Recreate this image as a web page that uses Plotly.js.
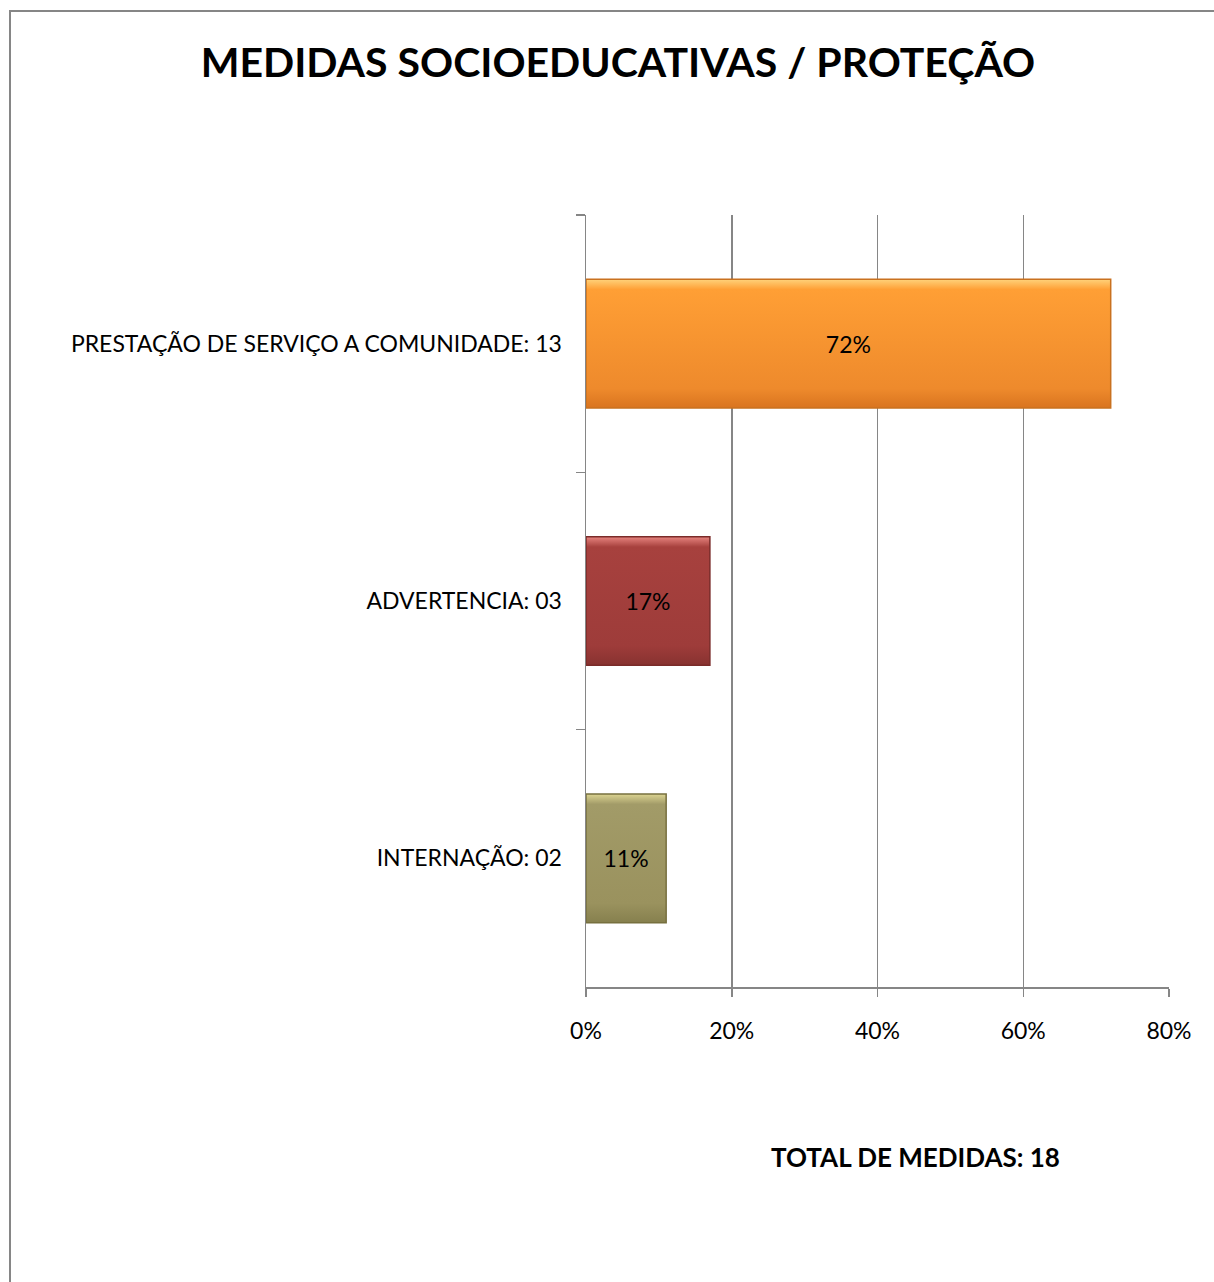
<!DOCTYPE html>
<html>
<head>
<meta charset="utf-8">
<script src="https://cdn.plot.ly/plotly-3.0.1.min.js"></script>
<style>
  html, body { margin: 0; padding: 0; background: #fff; }
  #wrap { position: relative; width: 1214px; height: 1282px; }
  #chart { position: absolute; left: 0; top: 0; width: 1214px; height: 1282px; }
  #frame { position: absolute; left: 9px; top: 10px; right: -4px; bottom: -4px;
           border-top: 2px solid #868686; border-left: 2px solid #868686; pointer-events: none; }
</style>
</head>
<body>
<div id="wrap">
  <div id="chart"></div>
  <div id="frame"></div>
</div>
<script>
const categories = ["PRESTAÇÃO DE SERVIÇO A COMUNIDADE: 13", "ADVERTENCIA: 03", "INTERNAÇÃO: 02"];
const shares = [0.72, 0.17, 0.11];
const labels = ["72%", "17%", "11%"];
const barColors = ["#F8912F", "#A23E3B", "#9D9563"];
const edgeColors = ["#C9711F", "#7A2B29", "#77703F"];
// gradient stops per bar (top highlight, body top, body bottom, bottom edge)
const barShades = [
  ["#FFD27A", "#FF9F35", "#EE8A2C", "#D9741F"],
  ["#E88580", "#A7413E", "#9E3C3A", "#873230"],
  ["#DCD492", "#A29B68", "#9A925E", "#86804E"]
];
const chartTitle = "MEDIDAS SOCIOEDUCATIVAS / PROTEÇÃO";
const totalNote = "TOTAL DE MEDIDAS: 18";

const FONT = "Lato, 'Open Sans', sans-serif";

const trace = {
  type: "bar",
  orientation: "h",
  y: categories,
  x: shares,
  text: labels,
  textposition: "inside",
  insidetextanchor: "middle",
  textangle: 0,
  textfont: { family: FONT, size: 23, color: "#000" },
  marker: { color: barColors, line: { color: edgeColors, width: 1.5 } },
  hoverinfo: "skip"
};

const layout = {
  width: 1214,
  height: 1282,
  paper_bgcolor: "#ffffff",
  plot_bgcolor: "#ffffff",
  margin: { l: 586, r: 45, t: 215, b: 295, pad: 0 },
  showlegend: false,
  bargap: 0.5,
  font: { family: FONT, color: "#000" },
  title: {
    text: "<b>" + chartTitle + "</b>",
    font: { family: FONT, size: 41, color: "#000" },
    x: 0.509, xanchor: "center",
    y: 0.951, yanchor: "middle", yref: "container"
  },
  xaxis: {
    range: [0, 0.8],
    tickvals: [0, 0.2, 0.4, 0.6, 0.8],
    tickformat: ".0%",
    showgrid: true,
    gridcolor: "#868686",
    gridwidth: 1.5,
    zeroline: false,
    showline: true,
    linecolor: "#868686",
    linewidth: 1.5,
    ticks: "outside",
    ticklen: 8,
    tickwidth: 1.5,
    tickcolor: "#868686",
    ticklabelstandoff: 15,
    tickfont: { family: FONT, size: 23, color: "#000" },
    fixedrange: true
  },
  yaxis: {
    type: "category",
    autorange: "reversed",
    showgrid: false,
    zeroline: false,
    showline: true,
    linecolor: "#868686",
    linewidth: 1.5,
    ticks: "outside",
    tickson: "boundaries",
    ticklen: 9,
    tickwidth: 1.5,
    tickcolor: "#868686",
    ticklabelstandoff: 18,
    tickfont: { family: FONT, size: 23, color: "#000" },
    fixedrange: true
  },
  annotations: [{
    text: "<b>" + totalNote + "</b>",
    xref: "paper", yref: "paper",
    x: 0.565, y: -0.220,
    xanchor: "center", yanchor: "middle",
    showarrow: false,
    font: { family: FONT, size: 26, color: "#000" }
  }]
};

Plotly.newPlot("chart", [trace], layout, { displayModeBar: false, staticPlot: true }).then(function (gd) {
  // give each bar the shaded (bevel-like) fill seen in the reference
  const svg = gd.querySelector("svg.main-svg");
  const NS = "http://www.w3.org/2000/svg";
  let defs = svg.querySelector("defs");
  if (!defs) { defs = document.createElementNS(NS, "defs"); svg.insertBefore(defs, svg.firstChild); }
  barShades.forEach(function (s, i) {
    const g = document.createElementNS(NS, "linearGradient");
    g.setAttribute("id", "barshade" + i);
    g.setAttribute("x1", "0"); g.setAttribute("y1", "0");
    g.setAttribute("x2", "0"); g.setAttribute("y2", "1");
    [[0, s[0]], [0.08, s[1]], [0.85, s[2]], [1, s[3]]].forEach(function (st) {
      const e = document.createElementNS(NS, "stop");
      e.setAttribute("offset", st[0]);
      e.setAttribute("stop-color", st[1]);
      g.appendChild(e);
    });
    defs.appendChild(g);
  });
  gd.querySelectorAll(".barlayer .point path").forEach(function (p, i) {
    p.style.fill = "url(#barshade" + i + ")";
  });
});
</script>
</body>
</html>
